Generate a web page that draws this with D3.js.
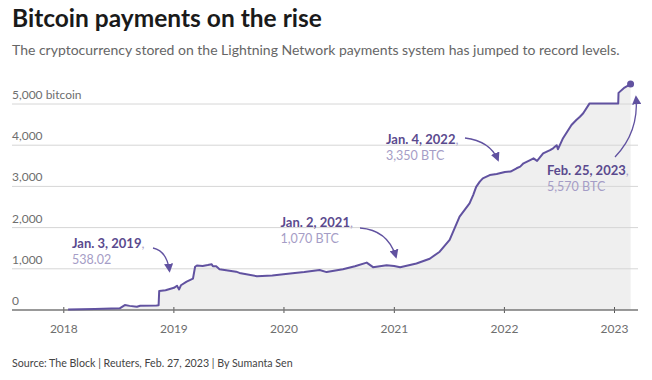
<!DOCTYPE html>
<html><head><meta charset="utf-8">
<script src="https://cdn.jsdelivr.net/npm/d3@7"></script>
<style>
html,body{margin:0;padding:0;background:#fff;}
svg{display:block;font-family:Lato, "Noto Sans", sans-serif;}
</style></head>
<body>
<svg id="c" width="652" height="380"></svg>
<script>
// ---- data ----
const dates = ["2018-01-17","2018-04-15","2018-07-07","2018-07-24","2018-08-09","2018-09-02","2018-09-13","2018-11-06","2018-11-13","2018-11-15","2018-12-06","2019-01-03","2019-01-13","2019-01-20","2019-01-26","2019-02-14","2019-03-07","2019-03-14","2019-03-20","2019-04-08","2019-04-25","2019-05-08","2019-05-12","2019-05-23","2019-06-03","2019-07-28","2019-08-08","2019-10-05","2019-11-25","2020-01-01","2020-01-31","2020-03-10","2020-04-30","2020-05-23","2020-07-16","2020-08-25","2020-10-03","2020-10-24","2020-12-08","2021-01-02","2021-01-22","2021-03-17","2021-04-30","2021-06-02","2021-07-05","2021-08-07","2021-09-09","2021-09-21","2021-10-01","2021-10-13","2021-10-23","2021-11-15","2021-12-08","2022-01-04","2022-01-23","2022-02-12","2022-02-24","2022-03-07","2022-03-29","2022-04-09","2022-04-21","2022-05-11","2022-06-03","2022-06-13","2022-06-25","2022-06-29","2022-07-16","2022-08-13","2022-08-29","2022-09-10","2022-09-21","2022-10-12","2023-01-15","2023-01-16","2023-02-05","2023-02-25"];
const values = [10,25,40,120,100,80,105,110,115,460,480,538,590,500,600,690,760,1050,1080,1070,1090,1110,1060,1060,990,930,900,820,840,870,890,920,970,920,990,1060,1150,1040,1085,1070,1040,1130,1245,1415,1700,2265,2590,2790,2990,3115,3195,3275,3300,3350,3360,3440,3480,3560,3640,3680,3620,3800,3880,3925,4000,3900,4170,4490,4610,4690,4775,5015,5015,5270,5400,5485];
const yTicks = [0,1000,2000,3000,4000,5000];
const yTickLabels = ["0","1,000","2,000","3,000","4,000","5,000 bitcoin"];
const xTickYears = [2018,2019,2020,2021,2022,2023];
const notes = [
  {date:"2019-01-03", title:"Jan. 3, 2019", value:"538.02"},
  {date:"2021-01-02", title:"Jan. 2, 2021", value:"1,070 BTC"},
  {date:"2022-01-04", title:"Jan. 4, 2022", value:"3,350 BTC"},
  {date:"2023-02-25", title:"Feb. 25, 2023", value:"5,570 BTC"}
];
const titleText = "Bitcoin payments on the rise";
const subtitleText = "The cryptocurrency stored on the Lightning Network payments system has jumped to record levels.";
const sourceText = "Source: The Block | Reuters, Feb. 27, 2023 | By Sumanta Sen";

// ---- layout ----
const svg = d3.select("#c");
const parse = d3.timeParse("%Y-%m-%d");
const data = dates.map((d,i)=>({date:parse(d), value:values[i]}));
const x = d3.scaleTime().domain([new Date(2018,0,1), new Date(2023,0,1)]).range([63.3, 614]);
const y = d3.scaleLinear().domain([0,5000]).range([310,104]);
const left = 12, right = 638;

function fitText(sel, w){
  const n = sel.node(); let fs = parseFloat(sel.attr("font-size"));
  const len = n.getComputedTextLength();
  sel.attr("font-size", (fs*w/len).toFixed(2));
}

const title = svg.append("text").attr("x",12).attr("y",27).attr("font-size",22).attr("font-weight",700).attr("fill","#1a1a1a").text(titleText);
fitText(title, 310);
const sub = svg.append("text").attr("x",12).attr("y",55).attr("font-size",14).attr("fill","#666").text(subtitleText);
fitText(sub, 608);

// area
const area = d3.area().x(d=>x(d.date)).y0(y(0)).y1(d=>y(d.value));
svg.append("path").datum(data).attr("d",area).attr("fill","#efefef");

// gridlines
svg.append("g").selectAll("line").data(yTicks.filter(d=>d>0)).join("line")
  .attr("x1",left).attr("x2",right).attr("y1",d=>y(d)).attr("y2",d=>y(d))
  .attr("stroke","#d6d6d6").attr("stroke-width",1);

svg.append("g").selectAll("text").data(yTicks).join("text")
  .attr("x",left).attr("y",d=>y(d)-5).attr("font-size",12).attr("fill","#6e6e6e")
  .text((d,i)=>yTickLabels[i]);

// x axis
const xAxis = d3.axisBottom(x).tickValues(xTickYears.map(yr=>new Date(yr,0,1))).tickFormat(d3.timeFormat("%Y")).tickSize(3).tickPadding(11);
const ax = svg.append("g").attr("transform",`translate(0,${y(0)})`).call(xAxis);
ax.select(".domain").remove();
ax.selectAll(".tick line").attr("stroke","#555").attr("y1",-3).attr("y2",3);
ax.selectAll(".tick text").attr("font-size",12).attr("fill","#6e6e6e").attr("font-family","Lato, sans-serif");
svg.append("line").attr("x1",left).attr("x2",right).attr("y1",y(0)).attr("y2",y(0)).attr("stroke","#777").attr("stroke-width",1.5);

// line
const line = d3.line().x(d=>x(d.date)).y(d=>y(d.value));
const purple = "#6152a0";
svg.append("path").datum(data).attr("d",line).attr("fill","none").attr("stroke",purple).attr("stroke-width",2).attr("stroke-linejoin","round");
const last = data[data.length-1];
svg.append("circle").attr("cx",x(last.date)).attr("cy",y(last.value)).attr("r",3.5).attr("fill",purple);

// annotations
svg.append("defs").append("marker").attr("id","ah").attr("viewBox","0 0 10 10").attr("refX",8).attr("refY",5)
  .attr("markerWidth",7).attr("markerHeight",7).attr("orient","auto-start-reverse")
  .append("path").attr("d","M0,0 L10,5 L0,10 z").attr("fill",purple);

const notePos = [
  {tx:72, ty:248, arrow:[[153,248],[167,251],[169.5,271]]},
  {tx:280.5, ty:227, arrow:[[360,228],[388,230],[396,257]]},
  {tx:386, ty:144, arrow:[[465,138],[490,141],[498,160]]},
  {tx:547, ty:175, arrow:[[615,157],[639,132],[636,97]]}
];
notes.forEach((n,i)=>{
  const p = notePos[i];
  const t = svg.append("text").attr("x",p.tx).attr("y",p.ty).attr("font-size",13);
  t.append("tspan").attr("font-weight",700).attr("fill","#5a4a8e").text(n.title);
  t.append("tspan").attr("fill","#a8a0c8").text(",");
  svg.append("text").attr("x",p.tx).attr("y",p.ty+16).attr("font-size",12.5).attr("fill","#a59dc6").text(n.value);
  const a = p.arrow;
  svg.append("path").attr("d",`M${a[0][0]},${a[0][1]} Q${a[1][0]},${a[1][1]} ${a[2][0]},${a[2][1]}`)
    .attr("fill","none").attr("stroke",purple).attr("stroke-width",1.3).attr("marker-end","url(#ah)");
});

const src = svg.append("text").attr("x",12).attr("y",367).attr("font-size",11).attr("fill","#444").text(sourceText);
fitText(src, 281);
</script>
</body></html>
